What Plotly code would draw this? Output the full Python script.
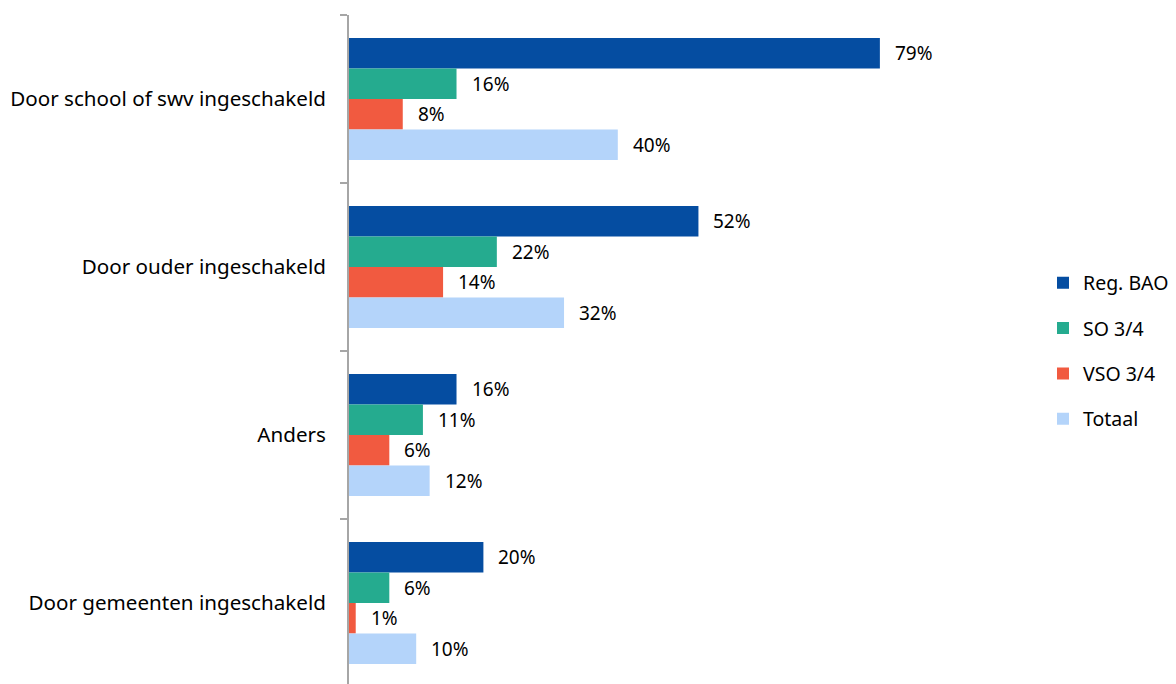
import plotly.graph_objects as go

categories = ["Door school of swv ingeschakeld", "Door ouder ingeschakeld", "Anders", "Door gemeenten ingeschakeld"]
series_names = ["Reg. BAO", "SO 3/4", "VSO 3/4", "Totaal"]
reg_bao = [79, 52, 16, 20]
so_34 = [16, 22, 11, 6]
vso_34 = [8, 14, 6, 1]
totaal = [40, 32, 12, 10]
colors = ["#054DA1", "#25AB8F", "#F15A40", "#B4D4FA"]

series_values = [reg_bao, so_34, vso_34, totaal]

FONT = "Noto Sans"
W, H = 1176, 684
L, R, T, B = 349, 176, 15, 0
plot_w = W - L - R
px_per_pct = 6.72
xmax = plot_w / px_per_pct

fig = go.Figure()
for name, vals, col in zip(series_names, series_values, colors):
    fig.add_trace(go.Bar(
        name=name, y=categories, x=vals, orientation="h",
        marker=dict(color=col, line=dict(width=0)),
        legendgroup=name,
        textposition="none",
        hoverinfo="x+y+name",
    ))

n = len(series_names)
plot_h = H - T - B
band_px = 168
yrange_bottom = -0.5 + plot_h / band_px
bargap = 0.274
bar_frac = (1 - bargap) / n
for i, (name, vals) in enumerate(zip(series_names, series_values)):
    for j, v in enumerate(vals):
        ypos = j - (1 - bargap) / 2 + bar_frac * (i + 0.5)
        fig.add_annotation(
            x=v, y=ypos, xref="x", yref="y",
            text=f"{v}%", showarrow=False,
            xanchor="left", yanchor="middle", xshift=13,
            font=dict(family=FONT, size=19, color="#000000"),
        )

fig.update_layout(
    width=W, height=H,
    margin=dict(l=L, r=R, t=T, b=B, pad=0, autoexpand=False),
    paper_bgcolor="white", plot_bgcolor="white",
    barmode="group", bargap=bargap, bargroupgap=0,
    font=dict(family=FONT, size=19, color="#000000"),
    showlegend=True,
    legend=dict(
        xref="container", yref="container",
        x=1043 / W, y=1 - 351 / H, xanchor="left", yanchor="middle",
        font=dict(family=FONT, size=19.5, color="#000000"),
        tracegroupgap=17, itemwidth=30,
        bgcolor="rgba(0,0,0,0)",
    ),
    xaxis=dict(
        range=[0, xmax], showgrid=False, zeroline=False, automargin=False,
        showticklabels=False, ticks="", showline=False, fixedrange=True,
    ),
    yaxis=dict(
        type="category", categoryorder="array", categoryarray=categories,
        range=[yrange_bottom, -0.5], automargin=False,
        showgrid=False, zeroline=False,
        showline=True, linecolor="#A6A6A6", linewidth=2,
        ticks="outside", tickson="boundaries", ticklen=7, tickcolor="#A6A6A6", tickwidth=2,
        ticklabelstandoff=17,
        tickfont=dict(family=FONT, size=20.6, color="#000000"),
    ),
)

fig.write_html(
    "out.html",
    config={"displayModeBar": False},
    post_script="document.body.style.margin='0';document.body.style.overflow='hidden';",
)
